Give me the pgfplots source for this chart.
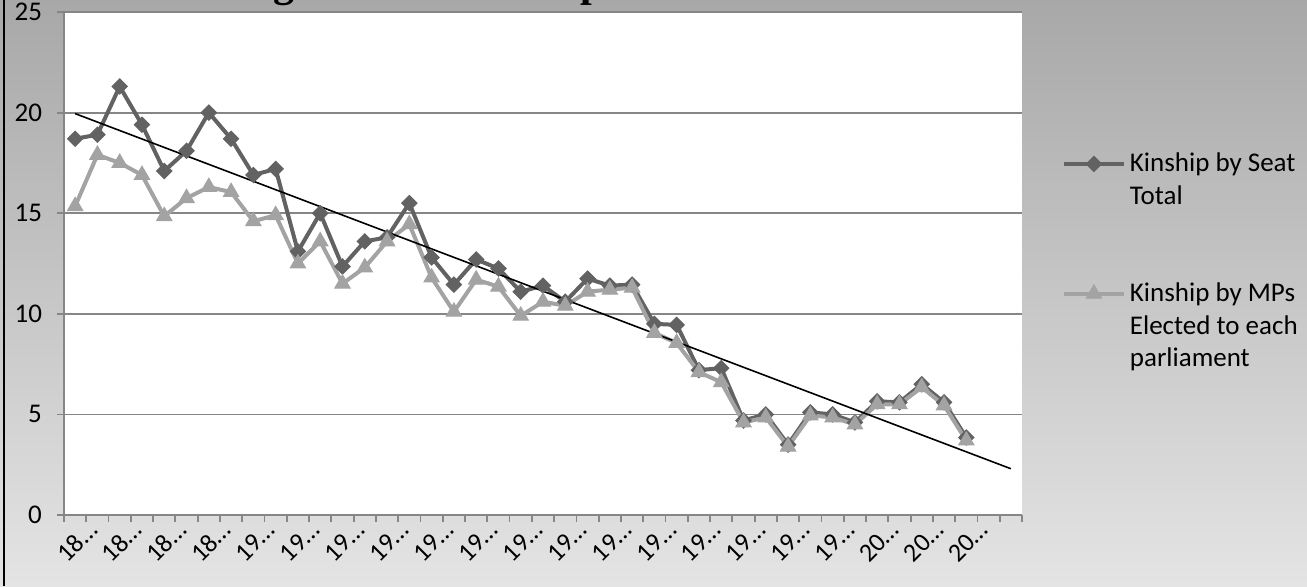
\documentclass[border=0pt]{standalone}
\usepackage{fontspec}
\setmainfont{Carlito}
\newfontfamily\titlefont{Liberation Serif}
\usepackage{pgfplots}
\pgfplotsset{compat=1.18}
\definecolor{darkser}{RGB}{98,98,98}
\definecolor{lightser}{RGB}{163,163,163}
\definecolor{bgtop}{RGB}{168,168,168}
\definecolor{bgbot}{RGB}{228,228,228}
\definecolor{axgray}{RGB}{134,134,134}
\pgfplotstableread{
x dark light
0 18.7 15.35
1 18.9 17.9
2 21.3 17.5
3 19.4 16.9
4 17.1 14.85
5 18.1 15.75
6 20.0 16.3
7 18.7 16.05
8 16.9 14.6
9 17.2 14.9
10 13.1 12.5
11 15.0 13.6
12 12.35 11.5
13 13.6 12.3
14 13.8 13.6
15 15.5 14.45
16 12.8 11.8
17 11.45 10.1
18 12.7 11.7
19 12.25 11.35
20 11.1 9.9
21 11.4 10.6
22 10.6 10.4
23 11.75 11.1
24 11.4 11.2
25 11.45 11.3
26 9.5 9.05
27 9.45 8.55
28 7.2 7.1
29 7.3 6.6
30 4.7 4.6
31 5.0 4.85
32 3.5 3.4
33 5.1 4.95
34 5.0 4.85
35 4.6 4.5
36 5.65 5.5
37 5.6 5.5
38 6.5 6.35
39 5.6 5.45
40 3.85 3.7
}\kinship
\begin{document}
\begin{tikzpicture}
\path[use as bounding box] (0pt,0pt) rectangle (653.5pt,293pt);
\clip (0pt,0pt) rectangle (653.5pt,293pt);
\shade[top color=bgtop, bottom color=bgbot] (0pt,0pt) rectangle (653.5pt,293pt);
\draw[black, line width=1pt] (1.75pt,0pt) -- (1.75pt,293pt);
\node[font=\titlefont\bfseries\fontsize{21}{21}\selectfont, anchor=base, inner sep=0pt] at (142pt,295pt) {g};
\node[font=\titlefont\bfseries\fontsize{21}{21}\selectfont, anchor=base west, inner sep=0pt] at (290pt,295pt) {p};
\begin{axis}[
  at={(32pt,35.5pt)}, anchor=south west,
  scale only axis, width=479pt, height=251.5pt,
  font=\fontsize{13.5}{16.25}\selectfont,
  /pgf/number format/assume math mode=true,
  axis background/.style={fill=white},
  xmin=-0.5, xmax=42.5, ymin=0, ymax=25,
  axis x line*=bottom, axis y line*=left,
  axis line style={axgray, line width=0.9pt},
  ytick={0,5,...,25},
  ymajorgrids, grid style={axgray, line width=0.9pt},
  xtick={0,2,...,40},
  xticklabels={18…,18…,18…,18…,19…,19…,19…,19…,19…,19…,19…,19…,19…,19…,19…,19…,19…,19…,20…,20…,20…},
  minor xtick={-0.5,0.5,...,42.5},
  tick align=outside, major tick length=3.5pt, minor tick length=3.5pt,
  tick style={axgray, line width=0.9pt},
  major x tick style={draw=none},
  xticklabel style={rotate=45, anchor=east, inner sep=0pt, xshift=5pt, yshift=-7.5pt, font=\fontsize{13}{15}\selectfont},
  yticklabel style={xshift=-4pt},
  legend style={draw=none, fill=none, at={(1.035,0.74)}, anchor=north west,
    font=\fontsize{13.5}{16.25}\selectfont, row sep=50pt, column sep=1pt,
    nodes={inner sep=1pt}, cells={anchor=base west}},
  legend image code/.code={\draw[mark repeat=2,mark phase=2] plot coordinates {(0pt,4pt) (15pt,4pt) (30pt,4pt)};},
]
\addplot[darkser, line width=2pt, mark=square*, mark size=2.7pt, mark options={rotate=45, fill=darkser, draw=darkser, line width=0.5pt}] table[x=x, y=dark] {\kinship};
\addlegendentry{\begin{tabular}[t]{@{}l@{}}Kinship by Seat\\Total\end{tabular}}
\addplot[lightser, line width=2pt, mark=triangle*, mark size=4.4pt, mark options={fill=lightser, draw=lightser, line width=0.5pt}] table[x=x, y=light] {\kinship};
\addlegendentry{\begin{tabular}[t]{@{}l@{}}Kinship by MPs\\Elected to each\\parliament\end{tabular}}
\addplot[black, line width=0.8pt, forget plot] coordinates {(0,19.95) (42,2.3)};
\end{axis}
\end{tikzpicture}
\end{document}
